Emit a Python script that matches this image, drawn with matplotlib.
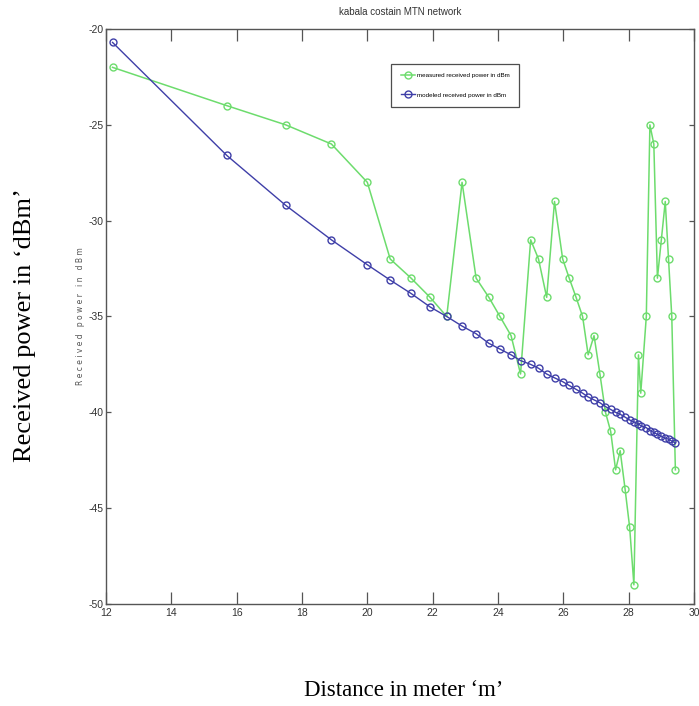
import matplotlib
matplotlib.use("Agg")
import matplotlib.pyplot as plt

plt.rcParams["axes.unicode_minus"] = False

# distance (m), shared by both series
distance = [12.2, 15.7, 17.5, 18.9, 20.0, 20.7, 21.34, 21.92, 22.43, 22.9,
            23.33, 23.72, 24.06, 24.4, 24.69, 25.0, 25.24, 25.49, 25.73, 25.98,
            26.18, 26.39, 26.59, 26.76, 26.94, 27.12, 27.29, 27.45, 27.6, 27.74,
            27.89, 28.03, 28.16, 28.3, 28.37, 28.54, 28.65, 28.77, 28.88, 29.0,
            29.12, 29.22, 29.32, 29.43]

measured = [-22, -24, -25, -26, -28, -32, -33, -34, -35, -28,
            -33, -34, -35, -36, -38, -31, -32, -34, -29, -32,
            -33, -34, -35, -37, -36, -38, -40, -41, -43, -42,
            -44, -46, -49, -37, -39, -35, -25, -26, -33, -31,
            -29, -32, -35, -43]

modeled = [-20.7, -26.6, -29.2, -31.0, -32.3, -33.1, -33.8, -34.5, -35.0, -35.5,
           -35.9, -36.4, -36.7, -37.0, -37.3, -37.5, -37.7, -38.0, -38.2, -38.4,
           -38.6, -38.8, -39.0, -39.2, -39.35, -39.5, -39.7, -39.85, -40.0, -40.1,
           -40.25, -40.4, -40.5, -40.6, -40.7, -40.8, -40.95, -41.05, -41.15, -41.25,
           -41.35, -41.4, -41.5, -41.6]

x_ticks = [12, 14, 16, 18, 20, 22, 24, 26, 28, 30]
y_ticks = [-50, -45, -40, -35, -30, -25, -20]

GREEN = "#6ddc6d"
BLUE = "#3f3fa8"
FRAME = "#555555"
NARROW = ["Liberation Sans Narrow", "Liberation Sans", "DejaVu Sans"]

fig = plt.figure(figsize=(6.99, 7.06), dpi=100)
W, H = 699, 706
ax = fig.add_axes([106 / W, 1 - 604 / H, (694 - 106) / W, (604 - 29) / H])

ax.plot(distance, measured, color=GREEN, lw=1.1, marker="o", ms=5,
        mfc="none", mec=GREEN, mew=1.0, label="measured received power in dBm")
ax.plot(distance, modeled, color=BLUE, lw=1.0, marker="o", ms=5,
        mfc="none", mec=BLUE, mew=1.0, label="modeled received power in dBm")

ax.set_xlim(12, 30)
ax.set_ylim(-50, -20)
ax.set_xticks(x_ticks)
ax.set_yticks(y_ticks)
for s in ax.spines.values():
    s.set_color(FRAME)
    s.set_linewidth(1.0)
ax.tick_params(axis="x", direction="in", length=8.5, width=0.9, color=FRAME,
               top=True, labelsize=7.5, labelcolor="#333333", pad=3)
ax.tick_params(axis="y", direction="in", length=3.6, width=0.9, color=FRAME,
               right=True, labelsize=7.5, labelcolor="#333333", pad=2)
for lab in ax.get_xticklabels() + ax.get_yticklabels():
    lab.set_family(NARROW)

ax.set_title("kabala costain MTN network", fontsize=7, color="#333333", pad=10,
             family=NARROW)
ax.set_ylabel("R e c e i v e d   p o w e r   i n   d B m", fontsize=5.5,
              color="#555555", labelpad=2)

leg = ax.legend(loc="upper left", bbox_to_anchor=(0.48, 0.945),
                prop={"family": NARROW, "size": 4.5},
                frameon=True, fancybox=False, edgecolor="#222222",
                handlelength=2.3, handletextpad=0.3, borderpad=1.5,
                labelspacing=2.2)
leg.get_frame().set_linewidth(0.9)

fig.text(25 / W, 1 - 325 / H, "Received power in \u2018dBm\u2019",
         family="Liberation Serif", fontsize=19, rotation=90,
         ha="center", va="center")
fig.text(404 / W, 1 - 690 / H, "Distance in meter \u2018m\u2019",
         family="Liberation Serif", fontsize=16.4, ha="center", va="center")

fig.savefig("out.png", dpi=100)
